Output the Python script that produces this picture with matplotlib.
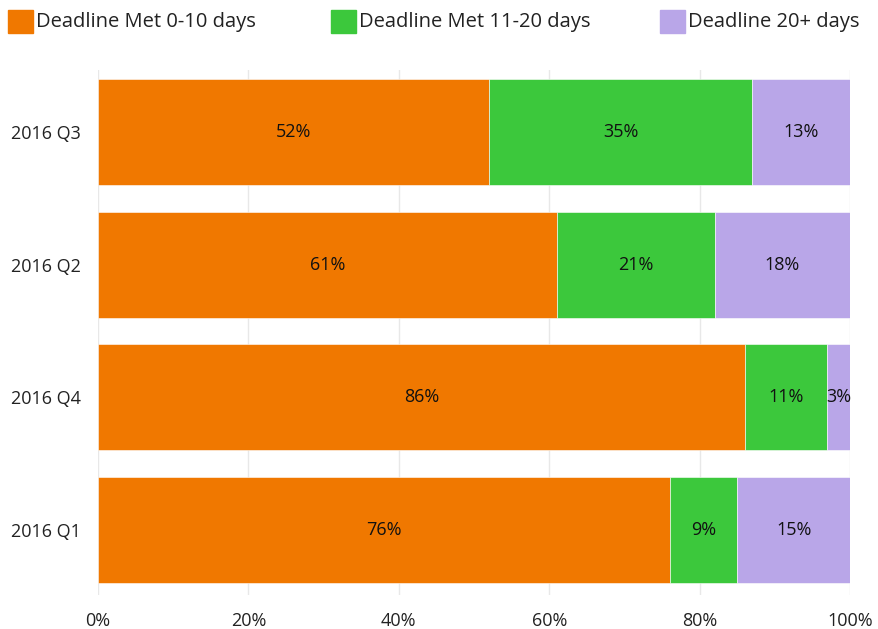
import matplotlib.pyplot as plt
from matplotlib.patches import Rectangle
import numpy as np

plt.rcParams['font.family'] = ['Open Sans', 'DejaVu Sans']

# categories bottom to top
quarters = ["2016 Q1", "2016 Q4", "2016 Q2", "2016 Q3"]
met_0_10 = [76, 86, 61, 52]
met_11_20 = [9, 11, 21, 35]
met_20_plus = [15, 3, 18, 13]

series = [
    ("Deadline Met 0-10 days", met_0_10, "#F07800"),
    ("Deadline Met 11-20 days", met_11_20, "#3CC83C"),
    ("Deadline 20+ days", met_20_plus, "#B9A6E8"),
]

W, H = 879, 629
fig = plt.figure(figsize=(W / 100, H / 100), dpi=100)
ax = fig.add_axes([98 / W, 1 - 595 / H, 752 / W, 525 / H])

y = np.arange(len(quarters))
left = np.zeros(len(quarters))
for name, vals, color in series:
    vals = np.array(vals, dtype=float)
    ax.barh(y, vals, left=left, height=0.8, color=color, label=name,
            edgecolor="white", linewidth=0.4, zorder=2)
    for yi, l, v in zip(y, left, vals):
        ax.text(l + v / 2, yi, f"{int(v)}%", ha="center", va="center",
                fontsize=13, color="#111111", zorder=3)
    left += vals

ax.set_xlim(0, 100)
ax.set_ylim(-0.49, 3.47)
ax.set_yticks(y)
ax.set_yticklabels(quarters, fontsize=13, color="#222222")
ax.set_xticks(np.arange(0, 101, 20))
ax.set_xticklabels([f"{t}%" for t in range(0, 101, 20)], fontsize=13, color="#222222")
ax.tick_params(length=0)
ax.tick_params(axis="x", pad=12)
ax.tick_params(axis="y", pad=12)
ax.grid(axis="x", color="#e8e8e8", linewidth=1, zorder=0)
for s in ax.spines.values():
    s.set_visible(False)

# legend row across the top
legend_x = [8, 331, 660]
for (name, _, color), lx in zip(series, legend_x):
    fig.patches.append(Rectangle((lx / W, 1 - 33 / H), 25 / W, 23 / H,
                                 transform=fig.transFigure, color=color))
    fig.text((lx + 28) / W, 1 - 21.5 / H, name, fontsize=14.5,
             color="#222222", va="center", ha="left")

fig.savefig("out.png", dpi=100)
